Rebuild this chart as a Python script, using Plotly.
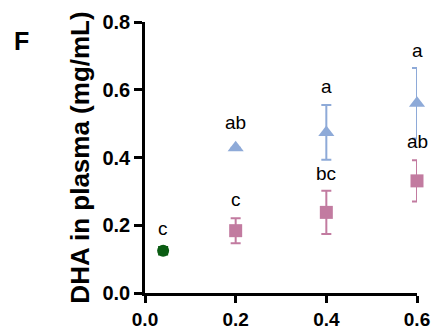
import plotly.graph_objects as go

# Data
ctrl_x = [0.04]
ctrl_y = [0.125]
ctrl_err = [0.011]

pink_x = [0.2, 0.4, 0.6]
pink_y = [0.184, 0.238, 0.331]
pink_err = [0.037, 0.064, 0.061]

blue_x = [0.2, 0.4, 0.6]
blue_y = [0.429, 0.474, 0.560]
blue_err = [0.0, 0.081, 0.104]

label_text = ["c", "c", "bc", "ab", "ab", "a", "a"]
label_x = [0.04, 0.2, 0.4, 0.6, 0.2, 0.4, 0.6]
label_y = [0.189, 0.277, 0.353, 0.447, 0.503, 0.611, 0.717]

x_ticks = [0.0, 0.2, 0.4, 0.6]
y_ticks = [0.0, 0.2, 0.4, 0.6, 0.8]

PINK = "#c27ba0"
BLUE = "#8eaad8"
GREEN = "#0a5c12"
FONT = "Liberation Sans, Arial, sans-serif"

fig = go.Figure()
fig.add_trace(go.Scatter(
    x=pink_x, y=pink_y, mode="markers",
    marker=dict(symbol="square", size=13, color=PINK),
    error_y=dict(type="data", array=pink_err, color=PINK, thickness=2, width=5),
    cliponaxis=False, showlegend=False))
fig.add_trace(go.Scatter(
    x=blue_x, y=blue_y, mode="markers",
    marker=dict(symbol="triangle-up", size=14, color=BLUE),
    error_y=dict(type="data", array=blue_err, color=BLUE, thickness=2, width=5),
    cliponaxis=False, showlegend=False))
fig.add_trace(go.Scatter(
    x=ctrl_x, y=ctrl_y, mode="markers",
    marker=dict(symbol="circle", size=12, color=GREEN),
    error_y=dict(type="data", array=ctrl_err, color=GREEN, thickness=2, width=5),
    cliponaxis=False, showlegend=False))

for t, x, y in zip(label_text, label_x, label_y):
    fig.add_annotation(x=x, y=y, text=t, showarrow=False,
                       font=dict(family=FONT, size=19, color="black"))

fig.add_annotation(xref="paper", yref="paper", x=-0.455, y=0.93, text="<b>F</b>",
                   showarrow=False, xanchor="center", yanchor="middle",
                   font=dict(family=FONT, size=25, color="black"))

fig.update_xaxes(range=[0, 0.6], tickvals=x_ticks, ticktext=[f"{v:.1f}" for v in x_ticks],
                 showline=True, linecolor="black", linewidth=2.5, ticks="outside",
                 ticklen=7, tickwidth=2.5, tickcolor="black", showgrid=False, zeroline=False,
                 automargin=False,
                 tickfont=dict(family=FONT, size=19, color="black", weight="bold"))
fig.update_yaxes(range=[0, 0.8], tickvals=y_ticks, ticktext=[f"{v:.1f}" for v in y_ticks],
                 showline=True, linecolor="black", linewidth=2.5, ticks="outside",
                 ticklen=8, tickwidth=2.5, tickcolor="black", showgrid=False, zeroline=False,
                 automargin=False,
                 tickfont=dict(family=FONT, size=20, color="black", weight="bold"),
                 title=dict(text="<b>DHA in plasma (mg/mL)</b>", standoff=6,
                            font=dict(family=FONT, size=26, color="black")))

fig.update_layout(width=435, height=330, margin=dict(l=145, r=18, t=22, b=37),
                  plot_bgcolor="white", paper_bgcolor="white")

fig.write_html("out.html")
